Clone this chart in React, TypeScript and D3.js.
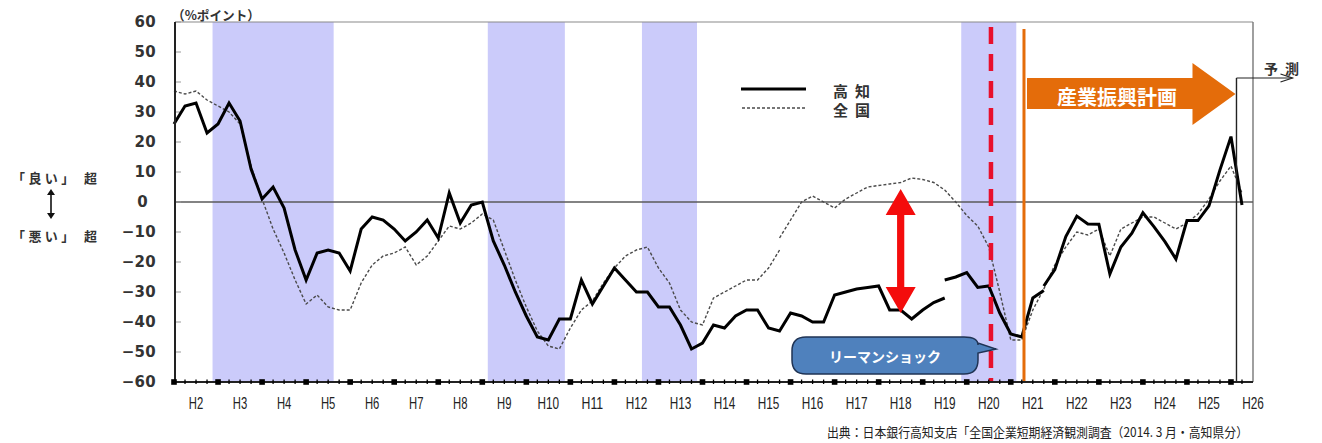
import React from "react";
import * as d3 from "d3";

// ---------- data ----------
// x axis: quarter index (0 = start of H2), year labels at mid-year
const yearLabels = ["H2","H3","H4","H5","H6","H7","H8","H9","H10","H11","H12","H13","H14","H15","H16","H17","H18","H19","H20","H21","H22","H23","H24","H25","H26"];
const yTicks = [60, 50, 40, 30, 20, 10, 0, -10, -20, -30, -40, -50, -60];

// 高知 (Kochi) DI, drawn in segments (series breaks)
const kochiSeg1Start = 0;
const kochiSeg1 = [
  26, 32, 33, 23, 26, 33, 27, 11, 1, 5,
  -2, -16, -26, -17, -16, -17, -23, -9, -5, -6,
  -9, -13, -10, -6, -12, 3, -7, -1, 0, -13,
  -21, -30, -38, -45, -46, -39, -39, -26, -34, -28,
  -22, -26, -30, -30, -35, -35, -41, -49, -47, -41,
  -42, -38, -36, -36, -42, -43, -37, -38, -40, -40,
  -31, -30, -29, -28.5, -28, -36, -36, -39, -36, -33.5,
  -32,
];
const kochiSeg2Start = 70;
const kochiSeg2 = [-26, -25, -23.5, -28.5, -28, -37, -44, -45, -32, -29.5];
const kochiSeg3Start = 79;
const kochiSeg3 = [-28, -22.5, -11.5, -4.7, -7.3, -7.4, -24, -15, -10.4, -3.6, -8.2, -13.2, -19, -6.2, -6.2, -1.3, 10.7, 21.8, -1];

// 全国 (national) DI
const zenkokuSeg1Start = 0;
const zenkokuSeg1 = [
  37, 36, 37, 34, 32, 30, 26, 12, 1, -9,
  -17, -26, -34, -31, -35, -36, -36, -27, -21, -18,
  -17, -15, -21, -18, -13, -8, -9, -7, -4, -6,
  -16, -26, -35, -43, -48, -49, -42, -36, -33, -27,
  -22, -18, -16, -15, -22, -27, -36, -40, -41, -32,
  -30, -28, -26, -26, -22, -16,
];
const zenkokuSeg2Start = 55;
const zenkokuSeg2 = [
  -12, -6, 0, 2, 0, -2, 1, 3, 5, 5.5,
  6, 6.5, 8, 7.5, 6.5, 4, 0, -4.5, -8, -15,
  -30, -46, -46, -36, -29, -21, -15, -10, -11, -9,
  -18, -9, -7, -5, -5, -7, -9, -7, -4, 1,
  7, 12, 3,
];

// recession periods (quarter index from/to)
const recessionFrom = [3.5, 28.5, 42.5, 71.5];
const recessionTo = [14.5, 35.5, 47.5, 76.5];

// event markers (quarter index)
const lehmanQuarter = 74.2;
const planQuarter = 77.2;
const forecastQuarter = 96.5;
const gapArrowQuarter = 66;
const gapArrowTop = 4.3;
const gapArrowBottom = -37;

const JP = "'Noto Sans CJK JP', 'Noto Sans', sans-serif";

export default function App() {
  const W = 1322;
  const H = 443;
  const x = d3.scaleLinear().domain([0, 98]).range([174, 1253]);
  const y = d3.scaleLinear().domain([-60, 60]).range([382, 22]);
  const fmt = d3.format("d");

  const seg = (start: number, vals: number[]) =>
    d3.line<number>().x((_, i) => x(start + i)).y((d) => y(d))(vals) ?? "";

  const top = y(60);
  const bottom = y(-60);
  const left = x(0) + 1;
  const right = x(98);

  const quarters = d3.range(0, 98);

  // red double arrow
  const ax = x(gapArrowQuarter);
  const ayT = y(gapArrowTop);
  const ayB = y(gapArrowBottom);
  const hw = 15, sw = 3.6, hl = 26;
  const redArrow = [
    [ax, ayT], [ax + hw, ayT + hl], [ax + sw, ayT + hl], [ax + sw, ayB - hl], [ax + hw, ayB - hl],
    [ax, ayB], [ax - hw, ayB - hl], [ax - sw, ayB - hl], [ax - sw, ayT + hl], [ax - hw, ayT + hl],
  ].map((p) => p.join(",")).join(" ");

  // orange plan arrow
  const ox0 = x(planQuarter) + 3;
  const oxTip = x(forecastQuarter) - 1;
  const oxBase = oxTip - 43;
  const orangeArrow = [
    [ox0, 78], [oxBase, 78], [oxBase, 63], [oxTip, 94], [oxBase, 125], [oxBase, 109], [ox0, 109],
  ].map((p) => p.join(",")).join(" ");

  // callout
  const cL = 792, cR = 978, cT = 337, cB = 374, r = 14;
  const tipX = x(lehmanQuarter) + 5;
  const callout = `M${cL + r},${cT} H${cR - r} Q${cR},${cT} ${cR},${cT + r - 6} L${cR},${cT + 6} L${tipX},${cT + 12} L${cR},${cT + 16} V${cB - r} Q${cR},${cB} ${cR - r},${cB} H${cL + r} Q${cL},${cB} ${cL},${cB - r} V${cT + r} Q${cL},${cT} ${cL + r},${cT} Z`;

  const fx = x(forecastQuarter);

  return (
    <svg
      width={W}
      height={H}
      viewBox={`0 0 ${W} ${H}`}
      style={{ position: "absolute", left: 0, top: 0, display: "block", background: "#fff" }}
    >
      <rect x={0} y={0} width={W} height={H} fill="#fff" />

      {/* recession bands */}
      {recessionFrom.map((a, i) => (
        <rect key={i} x={x(a)} y={top} width={x(recessionTo[i]) - x(a)} height={bottom - top} fill="#cbcbfa" />
      ))}

      {/* frame */}
      <line x1={left} x2={right} y1={top} y2={top} stroke="#8a8a8a" strokeWidth={1.2} />
      <line x1={right} x2={right} y1={top} y2={bottom} stroke="#777" strokeWidth={1.4} />

      {/* zero line */}
      <line x1={left} x2={right} y1={y(0)} y2={y(0)} stroke="#5a5a5a" strokeWidth={1.3} />

      {/* y ticks */}
      {yTicks.map((t) => (
        <line key={t} x1={left} x2={left + 6} y1={y(t)} y2={y(t)} stroke="#9a9a9a" strokeWidth={1} />
      ))}

      {/* lines */}
      <path d={seg(zenkokuSeg1Start, zenkokuSeg1)} fill="none" stroke="#4a4a4a" strokeWidth={1.4} strokeDasharray="3,2" />
      <path d={seg(zenkokuSeg2Start, zenkokuSeg2)} fill="none" stroke="#4a4a4a" strokeWidth={1.4} strokeDasharray="3,2" />
      <path d={seg(kochiSeg1Start, kochiSeg1)} fill="none" stroke="#000" strokeWidth={3} />
      <path d={seg(kochiSeg2Start, kochiSeg2)} fill="none" stroke="#000" strokeWidth={3} />
      <path d={seg(kochiSeg3Start, kochiSeg3)} fill="none" stroke="#000" strokeWidth={3} />

      {/* Lehman dashed line */}
      <line x1={x(lehmanQuarter)} x2={x(lehmanQuarter)} y1={27} y2={bottom} stroke="#e8102c" strokeWidth={4.5} strokeDasharray="17,10" />
      {/* plan start line */}
      <line x1={x(planQuarter)} x2={x(planQuarter)} y1={29} y2={bottom} stroke="#e46c0a" strokeWidth={3} />

      {/* forecast marker */}
      <line x1={fx} x2={fx} y1={78} y2={bottom} stroke="#222" strokeWidth={1.4} />
      <line x1={fx} x2={fx + 56} y1={78} y2={78} stroke="#222" strokeWidth={1.2} />
      <polyline points={`${fx + 44},74 ${fx + 56},78 ${fx + 44},82`} fill="none" stroke="#222" strokeWidth={1.2} />
      <text x={1285} y={68} fontFamily={JP} fontWeight="bold" fontSize={14} textAnchor="middle" dominantBaseline="central" letterSpacing={7} fill="#333">予測</text>

      {/* axes */}
      <line x1={left} x2={left} y1={top} y2={bottom} stroke="#222" strokeWidth={2} />
      <line x1={left} x2={right} y1={bottom} y2={bottom} stroke="#222" strokeWidth={2} />
      {quarters.map((q) =>
        q % 4 === 0 ? (
          <rect key={q} x={x(q) - 2.8} y={bottom - 2.8} width={5.6} height={5.6} fill="#000" />
        ) : (
          <line key={q} x1={x(q)} x2={x(q)} y1={bottom - 2.5} y2={bottom + 2} stroke="#000" strokeWidth={1.3} />
        )
      )}

      {/* orange plan arrow */}
      <polygon points={orangeArrow} fill="#e46c0a" />
      <text x={1117} y={96} fontFamily={JP} fontWeight="bold" fontSize={20} fill="#fff" textAnchor="middle" dominantBaseline="central">産業振興計画</text>

      {/* red gap arrow */}
      <polygon points={redArrow} fill="#f40c0c" />

      {/* callout */}
      <path d={callout} fill="#4f81bd" stroke="#1f3354" strokeWidth={1.5} />
      <text x={885} y={356} fontFamily={JP} fontWeight="bold" fontSize={14} fill="#fff" textAnchor="middle" dominantBaseline="central">リーマンショック</text>

      {/* legend */}
      <line x1={741} x2={806} y1={89} y2={89} stroke="#000" strokeWidth={3} />
      <line x1={742} x2={806} y1={108} y2={108} stroke="#4a4a4a" strokeWidth={1.4} strokeDasharray="3,2" />
      <text x={833} y={90} fontFamily={JP} fontWeight="bold" fontSize={15} letterSpacing={7} dominantBaseline="central" fill="#333">高知</text>
      <text x={833} y={109} fontFamily={JP} fontWeight="bold" fontSize={15} letterSpacing={7} dominantBaseline="central" fill="#333">全国</text>

      {/* y labels */}
      {yTicks.map((t) => (
        <text
          key={t}
          x={t === 0 ? 148 : 156}
          y={y(t)}
          textAnchor="end"
          dominantBaseline="central"
          fontFamily="'DejaVu Sans', sans-serif"
          fontWeight="bold"
          fontSize={15}
          letterSpacing={0.3}
          fill="#333"
        >
          {fmt(t)}
        </text>
      ))}
      <text x={172} y={14} fontFamily={JP} fontWeight="bold" fontSize={13} dominantBaseline="central" fill="#333" textLength={88} lengthAdjust="spacingAndGlyphs">（%ポイント）</text>

      {/* left annotations */}
      <text x={12} y={177} fontFamily={JP} fontWeight="bold" fontSize={13} dominantBaseline="central" fill="#333" textLength={85} lengthAdjust="spacing">「良い」 超</text>
      <line x1={51} x2={51} y1={192} y2={216} stroke="#111" strokeWidth={1.6} />
      <polygon points="47,195 51,189 55,195" fill="#111" />
      <polygon points="47,213 51,219 55,213" fill="#111" />
      <text x={12} y={235} fontFamily={JP} fontWeight="bold" fontSize={13} dominantBaseline="central" fill="#333" textLength={85} lengthAdjust="spacing">「悪い」 超</text>

      {/* x labels */}
      {yearLabels.map((lab, i) => (
        <text
          key={lab}
          x={x(2 + 4 * i)}
          y={409}
          textAnchor="middle"
          fontFamily="'Liberation Sans', sans-serif"
          fontSize={17}
          textLength={7.2 * lab.length}
          lengthAdjust="spacingAndGlyphs"
          fill="#222"
        >
          {lab}
        </text>
      ))}

      {/* source */}
      <text x={827} y={437} fontFamily={JP} fontSize={13} fill="#222" textLength={421} lengthAdjust="spacingAndGlyphs">
        出典：日本銀行高知支店「全国企業短期経済観測調査（2014. 3 月・高知県分）
      </text>
    </svg>
  );
}
